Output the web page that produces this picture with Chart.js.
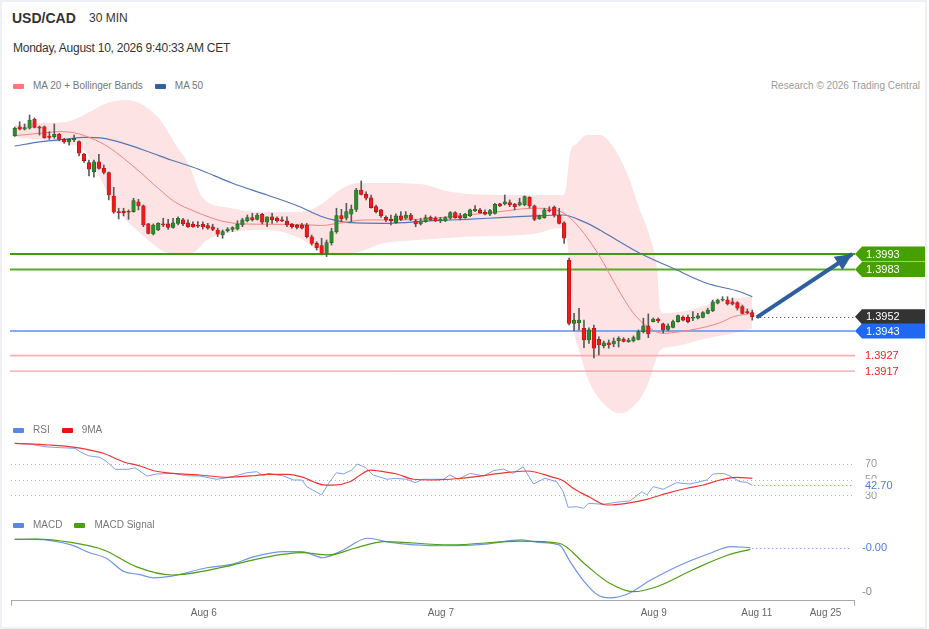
<!DOCTYPE html>
<html>
<head>
  <title>USD/CAD 30 MIN</title>
  <script src="https://cdn.jsdelivr.net/npm/chart.js"></script>
  <style>
    body {
      margin: 0;
      background: #fff;
      font-family: 'Liberation Sans', Arial, sans-serif;
      color: #333;
    }
    #wrap { position: relative; width: 929px; height: 629px; overflow: hidden; }
    #frame {
      position: absolute; left: 0; top: 0;
      width: 927px; height: 629px;
      box-sizing: border-box;
      border: 2px solid #edf0f4;
    }
    .abs { position: absolute; white-space: nowrap; }
    canvas { position: absolute; left: 0; }
    .legend {
      position: absolute; left: 13px; height: 12px; line-height: 12px;
      font-size: 10px; color: #777; display: flex; align-items: center; z-index: 2;
    }
    .legend .item { display: flex; align-items: center; margin-right: 12px; }
    .legend .sw { display: inline-block; width: 11px; height: 5px; border-radius: 1px; margin-right: 9px; }
  </style>
</head>
<body>
<div id="wrap">
  <div id="frame"></div>
  <div class="abs" style="left:12px;top:10px;font-size:14px;line-height:16px;font-weight:bold;">USD/CAD</div>
  <div class="abs" style="left:89px;top:11px;font-size:12px;line-height:14px;">30 MIN</div>
  <div class="abs" style="left:13px;top:41px;font-size:12px;line-height:14px;letter-spacing:-0.25px;">Monday, August 10, 2026 9:40:33 AM CET</div>

  <div class="legend" style="top:80px">
    <span class="item"><span class="sw" style="background:#ff7676"></span>MA 20 + Bollinger Bands</span>
    <span class="item"><span class="sw" style="background:#30609f"></span>MA 50</span>
  </div>
  <div class="abs" style="right:9px;top:80px;font-size:10px;line-height:12px;color:#9a9a9a;">Research © 2026 Trading Central</div>

  <canvas id="mainChart" width="929" height="330" style="top:95px"></canvas>

  <div class="legend" style="top:424px">
    <span class="item"><span class="sw" style="background:#5a86e4"></span>RSI</span>
    <span class="item"><span class="sw" style="background:#ee1111"></span>9MA</span>
  </div>
  <canvas id="rsiChart" width="929" height="80" style="top:436px"></canvas>

  <div class="legend" style="top:519px">
    <span class="item"><span class="sw" style="background:#5a86e4"></span>MACD</span>
    <span class="item"><span class="sw" style="background:#4c9e12"></span>MACD Signal</span>
  </div>
  <canvas id="macdChart" width="929" height="99" style="top:530px"></canvas>
</div>

<script>
  // ---- price candles (30 min), index 0..149 ----
  const candleOpen = [
    1.40698,1.40756,1.40741,1.40746,1.40804,1.40756,1.40756,1.40696,1.40691,1.40707,
    1.40674,1.40657,1.40670,1.40659,1.40579,1.40523,1.40464,1.40529,1.40486,1.40458,
    1.40306,1.40205,1.40209,1.40205,1.40205,1.40269,1.40242,1.40125,1.40060,1.40086,
    1.40125,1.40125,1.40103,1.40129,1.40151,1.40133,1.40123,1.40118,1.40123,1.40114,
    1.40107,1.40086,1.40053,1.40081,1.40090,1.40092,1.40118,1.40146,1.40166,1.40155,
    1.40188,1.40136,1.40172,1.40162,1.40151,1.40144,1.40123,1.40118,1.40118,1.40118,
    1.40042,1.39999,1.39984,1.39935,1.40004,1.40075,1.40179,1.40162,1.40188,1.40220,
    1.40345,1.40317,1.40295,1.40237,1.40216,1.40168,1.40157,1.40133,1.40177,1.40162,
    1.40183,1.40146,1.40125,1.40140,1.40168,1.40162,1.40144,1.40146,1.40162,1.40198,
    1.40177,1.40166,1.40179,1.40211,1.40216,1.40201,1.40188,1.40194,1.40255,1.40255,
    1.40263,1.40253,1.40248,1.40248,1.40298,1.40242,1.40157,1.40166,1.40216,1.40233,
    1.40183,1.40133,1.39891,1.39480,1.39484,1.39448,1.39372,1.39448,1.39376,1.39335,
    1.39354,1.39346,1.39365,1.39378,1.39361,1.39365,1.39376,1.39426,1.39463,1.39491,
    1.39508,1.39476,1.39441,1.39454,1.39491,1.39519,1.39519,1.39513,1.39513,1.39519,
    1.39545,1.39562,1.39610,1.39631,1.39631,1.39620,1.39614,1.39588,1.39556,1.39549
  ];
  const candleHigh = [
    1.40754,1.40789,1.40774,1.40832,1.40813,1.40761,1.40761,1.40724,1.40774,1.40713,
    1.40681,1.40681,1.40702,1.40665,1.40584,1.40540,1.40540,1.40577,1.40508,1.40462,
    1.40363,1.40227,1.40227,1.40216,1.40292,1.40285,1.40248,1.40129,1.40125,1.40133,
    1.40162,1.40155,1.40162,1.40172,1.40162,1.40151,1.40138,1.40140,1.40138,1.40129,
    1.40123,1.40097,1.40086,1.40101,1.40107,1.40146,1.40162,1.40183,1.40194,1.40194,
    1.40194,1.40172,1.40194,1.40172,1.40172,1.40172,1.40129,1.40123,1.40129,1.40129,
    1.40053,1.40010,1.40032,1.40021,1.40097,1.40227,1.40220,1.40259,1.40248,1.40356,
    1.40404,1.40334,1.40313,1.40248,1.40220,1.40177,1.40183,1.40190,1.40205,1.40205,
    1.40194,1.40155,1.40162,1.40183,1.40177,1.40172,1.40168,1.40172,1.40205,1.40205,
    1.40194,1.40194,1.40222,1.40244,1.40227,1.40216,1.40220,1.40259,1.40259,1.40313,
    1.40281,1.40259,1.40292,1.40307,1.40302,1.40248,1.40183,1.40227,1.40237,1.40242,
    1.40227,1.40140,1.39904,1.39545,1.39578,1.39501,1.39450,1.39469,1.39393,1.39365,
    1.39372,1.39385,1.39393,1.39387,1.39383,1.39398,1.39437,1.39513,1.39541,1.39515,
    1.39515,1.39482,1.39476,1.39501,1.39534,1.39528,1.39534,1.39556,1.39545,1.39556,
    1.39578,1.39631,1.39638,1.39653,1.39653,1.39644,1.39620,1.39599,1.39573,1.39566
  ];
  const candleLow = [
    1.40693,1.40735,1.40735,1.40741,1.40748,1.40702,1.40681,1.40674,1.40681,1.40665,
    1.40648,1.40637,1.40659,1.40566,1.40525,1.40436,1.40428,1.40480,1.40449,1.40281,
    1.40194,1.40157,1.40177,1.40155,1.40201,1.40216,1.40107,1.40060,1.40053,1.40081,
    1.40107,1.40090,1.40097,1.40118,1.40114,1.40103,1.40103,1.40101,1.40092,1.40090,
    1.40081,1.40042,1.40032,1.40073,1.40075,1.40086,1.40107,1.40138,1.40144,1.40151,
    1.40125,1.40107,1.40129,1.40136,1.40140,1.40107,1.40097,1.40092,1.40092,1.40034,
    1.39988,1.39956,1.39924,1.39913,1.39988,1.40064,1.40140,1.40151,1.40140,1.40205,
    1.40313,1.40281,1.40227,1.40196,1.40168,1.40140,1.40118,1.40129,1.40146,1.40155,
    1.40146,1.40107,1.40118,1.40136,1.40146,1.40140,1.40133,1.40140,1.40155,1.40162,
    1.40151,1.40162,1.40172,1.40205,1.40194,1.40183,1.40179,1.40188,1.40237,1.40248,
    1.40237,1.40216,1.40242,1.40243,1.40229,1.40146,1.40155,1.40162,1.40203,1.40170,
    1.40125,1.39999,1.39469,1.39432,1.39437,1.39322,1.39350,1.39255,1.39275,1.39320,
    1.39318,1.39328,1.39326,1.39359,1.39357,1.39359,1.39372,1.39417,1.39387,1.39489,
    1.39484,1.39417,1.39430,1.39450,1.39487,1.39495,1.39482,1.39497,1.39508,1.39515,
    1.39541,1.39556,1.39606,1.39625,1.39599,1.39599,1.39566,1.39541,1.39541,1.39501
  ];
  const candleClose = [
    1.40746,1.40741,1.40750,1.40800,1.40752,1.40746,1.40685,1.40687,1.40707,1.40674,
    1.40657,1.40674,1.40681,1.40584,1.40536,1.40480,1.40529,1.40486,1.40460,1.40313,
    1.40201,1.40198,1.40198,1.40201,1.40276,1.40242,1.40118,1.40064,1.40118,1.40129,
    1.40118,1.40103,1.40133,1.40162,1.40125,1.40107,1.40107,1.40110,1.40107,1.40097,
    1.40090,1.40058,1.40075,1.40092,1.40101,1.40123,1.40151,1.40166,1.40151,1.40183,
    1.40136,1.40172,1.40151,1.40146,1.40144,1.40118,1.40107,1.40103,1.40097,1.40042,
    1.39999,1.39971,1.39935,1.40004,1.40075,1.40179,1.40157,1.40205,1.40222,1.40345,
    1.40317,1.40292,1.40231,1.40205,1.40177,1.40151,1.40146,1.40177,1.40155,1.40183,
    1.40155,1.40125,1.40146,1.40166,1.40151,1.40146,1.40157,1.40166,1.40198,1.40166,
    1.40162,1.40188,1.40216,1.40220,1.40198,1.40188,1.40211,1.40253,1.40242,1.40269,
    1.40248,1.40237,1.40263,1.40302,1.40242,1.40155,1.40177,1.40216,1.40209,1.40183,
    1.40129,1.40032,1.39480,1.39501,1.39501,1.39372,1.39437,1.39318,1.39339,1.39354,
    1.39339,1.39365,1.39383,1.39363,1.39372,1.39387,1.39426,1.39463,1.39411,1.39508,
    1.39495,1.39437,1.39463,1.39491,1.39530,1.39501,1.39491,1.39517,1.39528,1.39549,
    1.39566,1.39620,1.39631,1.39636,1.39606,1.39604,1.39578,1.39545,1.39549,1.39523
  ];

  // ---- moving averages and Bollinger bands (candle index, price) ----
  const ma20Idx = [0, 5, 9, 12, 15.5, 19, 22, 25.6, 29, 32.3, 36.4, 41, 44, 50.5, 57.5, 62, 64.5, 71, 78, 84.5,
    91.3, 98, 104.7, 108.7, 111.5, 115, 118.2, 121.6, 125, 128.3, 131, 134.4, 138.4, 142.5, 145.2, 149];
  const ma20Val = [1.40698, 1.40713, 1.40724, 1.40717, 1.40681, 1.40623, 1.40551, 1.40454, 1.40356, 1.40269,
    1.40206, 1.40151, 1.40131, 1.40123, 1.40122, 1.40115, 1.40125, 1.40151, 1.40151, 1.40162,
    1.40183, 1.40205, 1.40227, 1.40220, 1.40183, 1.40064, 1.39913, 1.39718, 1.39545, 1.39448,
    1.39415, 1.39426, 1.39448, 1.39484, 1.39523, 1.39545];

  const ma50Idx = [0, 5.4, 10, 14, 18, 22, 27, 31.6, 37, 44, 51, 57.6, 61.7, 64.4, 67.7, 74.5, 84.6, 91.3, 98, 104.8,
    110.8, 114.9, 118.2, 121.6, 126.3, 133, 139.8, 146.5, 149];
  const ma50Val = [1.40631, 1.40659, 1.40674, 1.40687, 1.40681, 1.40648, 1.40594, 1.40540, 1.40482, 1.40389,
    1.40313, 1.40237, 1.40177, 1.40151, 1.40133, 1.40129, 1.40146, 1.40155, 1.40166, 1.40177,
    1.40183, 1.40140, 1.40086, 1.40021, 1.39935, 1.39837, 1.39740, 1.39685, 1.39653];

  const bandUpIdx = [0, 5.1, 10.6, 14.6, 18.2, 22.3, 25.3, 29.4, 32.8, 35.4, 37.4, 38.8, 43.5, 49.6, 55.6, 59.7, 62.3, 64.3, 66.3, 69.3, 73.8,
    81.9, 87.9, 98, 104.7, 110.8, 111.4, 112.2, 113.6, 115.6, 118.2, 120.9, 123.7, 126.3, 128.3, 129.8, 130.4, 131, 136.4, 143.1, 149];
  const bandUpVal = [1.40767, 1.40780, 1.40789, 1.40843, 1.40904, 1.40930, 1.40908, 1.40800, 1.40626, 1.40497,
    1.40324, 1.40269, 1.40229, 1.40203, 1.40203, 1.40216, 1.40261, 1.40313, 1.40358, 1.40390, 1.40390,
    1.40384, 1.40334, 1.40313, 1.40313, 1.40313, 1.40367, 1.40586, 1.40648, 1.40702, 1.40702,
    1.40626, 1.40454, 1.40216, 1.40042, 1.39826, 1.39566, 1.39545, 1.39566, 1.39631, 1.39653];

  const bandLoIdx = [0, 10.6, 14, 17, 19.5, 22.5, 25.3, 29, 31, 35.8, 38.8, 44.1, 51, 57.6, 61.7, 63.7, 67.7, 70.8, 73.8, 81.3,
    91.4, 104.7, 110.2, 111.2, 112.2, 112.8, 114.2, 116.2, 119.6, 122.3, 124.9, 127.7, 129.3, 130.4, 133, 139.9, 145.2, 149];
  const bandLoVal = [1.40689, 1.40644, 1.40605, 1.40443, 1.40281, 1.40151, 1.40066, 1.39969, 1.39937, 1.39937,
    1.40021, 1.40073, 1.40086, 1.40032, 1.39943, 1.39924, 1.39930, 1.39956, 1.39995, 1.40021,
    1.40042, 1.40060, 1.40099, 1.40073, 1.39826, 1.39501, 1.39288, 1.39091, 1.38939, 1.38896,
    1.38939, 1.39069, 1.39221, 1.39307, 1.39329, 1.39383, 1.39415, 1.39448];

  // ---- key levels and forecast arrow ----
  const resistLevels = [1.3993, 1.3983];
  const pivotLevel = 1.3943;
  const supportLevels = [1.3927, 1.3917];
  const arrowIdx = [149.9, 169.2];
  const arrowVal = [1.39519, 1.3993];

  // ---- RSI panel ----
  const rsiIdx = [0, 3.1, 6.1, 9.2, 12.2, 13.2, 14.9, 17.2, 18.6, 20.3, 22.9, 24.3, 26.7, 28.7, 32, 34.7, 37.4, 40.8, 43.5, 46.9,
    48.9, 50.2, 51.2, 54.3, 56.3, 58, 59, 62, 63.4, 65, 66.4, 68.1, 69.2, 70.8, 72.4, 75.2, 76.8, 79.2, 80.9, 82.5,
    86.6, 87.9, 89.6, 92, 94.7, 96.7, 98.7, 100.7, 102.7, 104.8, 107.1, 109.5, 110.8, 111.8, 113.5, 114.9, 115.9, 118.9, 122.3, 124.3,
    126.7, 127.7, 129, 131, 133.7, 136.4, 139.8, 141.1, 143.2, 144.5, 146.5, 147.9, 149];
  const rsiVal = [95.8, 94.9, 91.5, 90.3, 89.5, 85.2, 80.1, 78.1, 72.5, 62.9, 62.9, 64.9, 54.4, 57.0, 57.8, 54.8, 54.4, 50.3, 52.8, 58.6,
    59.9, 54.8, 57.8, 54.4, 49.4, 49.4, 40.9, 30.4, 45.2, 58.6, 57.0, 62.0, 69.6, 65.4, 55.7, 50.3, 51.5, 50.3, 46.0, 50.3,
    50.3, 55.7, 50.3, 57.8, 54.4, 61.1, 63.3, 57.8, 66.2, 44.3, 51.5, 47.2, 34.6, 14.8, 15.6, 13.5, 19.9, 18.6, 21.9, 22.8,
    34.6, 30.4, 40.9, 37.6, 46.0, 44.3, 49.4, 57.0, 57.8, 54.4, 47.2, 46.4, 42.7];
  const rsiMaIdx = [0, 7.1, 12.2, 15.2, 17.9, 21.9, 25.3, 28.3, 32, 37.4, 42.8, 48.2, 50.9, 55, 58.3, 60.3, 62.7, 64.4, 67.7, 69.8,
    71.8, 74.5, 77.2, 80.5, 84.6, 90, 94, 98, 103.4, 108.8, 110.8, 112.8, 116.2, 119.6, 123.6, 127.7, 131.7, 135.8, 139.1, 142.5, 145.8, 149];
  const rsiMaVal = [95.8, 93.7, 90.8, 87.3, 83.2, 72.5, 67.1, 60.8, 57.8, 55.7, 52.8, 54.8, 56.6, 56.6, 52.8, 47.2, 43.0, 43.0, 47.2, 55.7,
    62.0, 59.9, 57.0, 50.3, 49.4, 51.5, 54.4, 57.8, 60.8, 52.8, 48.5, 38.9, 27.5, 17.7, 19.9, 24.9, 32.5, 38.9, 43.0, 49.4, 52.8, 51.5];
  const rsiLevels = [70, 50, 30];

  // ---- MACD panel (values in pips) ----
  const macdIdx = [0, 4.2, 11.4, 15, 18.5, 22.1, 25.1, 28.1, 31.7, 38.8, 43.7, 48.4, 54.4, 58, 62.2, 66.4, 71.2, 75.9, 80.7, 87.9,
    95.1, 102.2, 105.8, 110, 112.2, 114.8, 117.8, 120.2, 123.7, 128.5, 134.5, 140.5, 144.7, 148.6];
  const macdVal = [2.8, 2.8, 0.8, -1.9, -4.0, -8.8, -9.8, -11.0, -10.4, -7.4, -6.2, -3.4, -1.6, -1.6, -3.8, -1.0, 3.2, 1.7, 0.8, 0.5,
    1.1, 2.6, 1.7, 0.8, -5.2, -11.8, -17.2, -18.2, -16.9, -11.8, -6.4, -2.2, 0.2, -0.2];
  const signalIdx = [0, 4.2, 11.4, 18, 24.5, 31.7, 42.5, 49.6, 58, 63.4, 68.7, 74.7, 87.9, 102.2, 110, 115.4, 120.2, 124.9, 129.7, 136.9, 144.1, 148.6];
  const signalVal = [2.8, 2.9, 1.7, -1.0, -7.0, -10.0, -7.0, -4.0, -2.0, -2.8, -0.4, 2.0, 0.8, 2.2, 1.4, -6.4, -13.0, -16.0, -14.2, -8.2, -2.8, -0.8];
  const macdTickVals = [-0.2, -16];
  const macdTickText = ['-0.00', '-0'];

  // ---- time axis ----
  const tickIdx = [38.2, 86.1, 129.1, 149.9, 163.8];
  const tickText = ['Aug 6', 'Aug 7', 'Aug 9', 'Aug 11', 'Aug 25'];

  // shared horizontal range (slots past the last candle are future time)
  const X_MIN = -0.75, X_MAX = 169.55;
  const LABEL_X = 865;

  Chart.defaults.font.family = "'Liberation Sans', Arial, sans-serif";

  function pts(xs, ys) {
    return xs.map((x, i) => ({ x: x, y: ys[i] }));
  }

  function baseOptions(yMin, yMax) {
    return {
      responsive: false,
      animation: false,
      events: [],
      layout: { padding: { left: 11, right: 75, top: 0, bottom: 0 } },
      plugins: { legend: { display: false }, tooltip: { enabled: false } },
      scales: {
        x: { type: 'linear', min: X_MIN, max: X_MAX, offset: false, display: false },
        y: { type: 'linear', min: yMin, max: yMax, display: false }
      }
    };
  }

  function hLine(ctx, x1, x2, y, color, width, dash) {
    ctx.save();
    ctx.beginPath();
    ctx.strokeStyle = color;
    ctx.lineWidth = width;
    ctx.setLineDash(dash || []);
    ctx.moveTo(x1, y);
    ctx.lineTo(x2, y);
    ctx.stroke();
    ctx.restore();
  }

  function tagBox(ctx, y, color, text) {
    ctx.save();
    ctx.fillStyle = color;
    ctx.beginPath();
    ctx.moveTo(855, y);
    ctx.lineTo(862, y - 7.5);
    ctx.lineTo(925, y - 7.5);
    ctx.lineTo(925, y + 7.5);
    ctx.lineTo(862, y + 7.5);
    ctx.closePath();
    ctx.fill();
    ctx.fillStyle = '#fff';
    ctx.font = "11px 'Liberation Sans', Arial";
    ctx.textBaseline = 'middle';
    ctx.fillText(text, 866, y + 0.5);
    ctx.restore();
  }

  function sideText(ctx, x, y, color, text) {
    ctx.save();
    ctx.fillStyle = color;
    ctx.font = "11px 'Liberation Sans', Arial";
    ctx.textBaseline = 'middle';
    ctx.fillText(text, x, y + 0.5);
    ctx.restore();
  }

  // ---------- main price chart ----------
  const upColor = '#2f8a2f', downColor = '#f01818';
  const wickData = candleOpen.map((o, i) => ({ x: i, y: [candleLow[i], candleHigh[i]] }));
  const bodyData = candleOpen.map((o, i) => ({ x: i, y: [o, candleClose[i]] }));
  const bodyFill = candleOpen.map((o, i) => candleClose[i] >= o ? upColor : downColor);
  const bodyEdge = candleOpen.map((o, i) => candleClose[i] >= o ? '#1f5f1f' : '#a81010');

  const levelsPlugin = {
    id: 'levels',
    afterDatasetDraw(chart, args) {
      if (args.index !== 1) return; // right after the Bollinger band
      const { ctx, chartArea, scales: { y } } = chart;
      const x1 = chartArea.left - 1, x2 = 855;
      hLine(ctx, x1, x2, y.getPixelForValue(resistLevels[0]), '#3e9a06', 2);
      hLine(ctx, x1, x2, y.getPixelForValue(resistLevels[1]), '#5aaa26', 2);
      hLine(ctx, x1, x2, y.getPixelForValue(pivotLevel), '#5b8ff0', 1.3);
      hLine(ctx, x1, x2, y.getPixelForValue(supportLevels[0]), '#f8b0b0', 1.6);
      hLine(ctx, x1, x2, y.getPixelForValue(supportLevels[1]), '#f38a8a', 1);
    },
    afterDraw(chart) {
      const { ctx, scales: { x, y } } = chart;
      const last = candleClose[candleClose.length - 1];
      const lastX = x.getPixelForValue(candleClose.length - 1) + 4;
      hLine(ctx, lastX, 855, Math.round(y.getPixelForValue(last)) + 0.5, '#333', 1, [1, 3]);

      tagBox(ctx, y.getPixelForValue(resistLevels[0]), '#46a000', resistLevels[0].toFixed(4));
      tagBox(ctx, y.getPixelForValue(resistLevels[1]), '#46a000', resistLevels[1].toFixed(4));
      tagBox(ctx, y.getPixelForValue(last), '#333333', last.toFixed(4));
      tagBox(ctx, y.getPixelForValue(pivotLevel), '#1f68f2', pivotLevel.toFixed(4));
      supportLevels.forEach(v => sideText(ctx, LABEL_X, y.getPixelForValue(v), '#f01e1e', v.toFixed(4)));

      // arrow head on the forecast line
      const ax1 = x.getPixelForValue(arrowIdx[0]), ay1 = y.getPixelForValue(arrowVal[0]);
      const ax2 = x.getPixelForValue(arrowIdx[1]), ay2 = y.getPixelForValue(arrowVal[1]);
      const a = Math.atan2(ay2 - ay1, ax2 - ax1);
      const L = 17, W = 8;
      ctx.save();
      ctx.fillStyle = '#2d5f9f';
      ctx.beginPath();
      ctx.moveTo(ax2, ay2);
      ctx.lineTo(ax2 - L * Math.cos(a) + W * Math.sin(a), ay2 - L * Math.sin(a) - W * Math.cos(a));
      ctx.lineTo(ax2 - L * Math.cos(a) - W * Math.sin(a), ay2 - L * Math.sin(a) + W * Math.cos(a));
      ctx.closePath();
      ctx.fill();
      ctx.restore();
    }
  };

  new Chart(document.getElementById('mainChart').getContext('2d'), {
    type: 'bar',
    data: {
      datasets: [
        { type: 'line', data: pts(bandUpIdx, bandUpVal), borderWidth: 0, borderColor: 'rgba(0,0,0,0)',
          backgroundColor: '#fde3e3', fill: '+1', pointRadius: 0, cubicInterpolationMode: 'monotone', order: 10 },
        { type: 'line', data: pts(bandLoIdx, bandLoVal), borderWidth: 0, borderColor: 'rgba(0,0,0,0)',
          fill: false, pointRadius: 0, cubicInterpolationMode: 'monotone', order: 9 },
        { type: 'line', data: pts(ma50Idx, ma50Val), borderColor: '#5576b6', borderWidth: 1.2,
          pointRadius: 0, cubicInterpolationMode: 'monotone', order: 8 },
        { type: 'line', data: pts(ma20Idx, ma20Val), borderColor: '#f28484', borderWidth: 1,
          pointRadius: 0, cubicInterpolationMode: 'monotone', order: 7 },
        { type: 'bar', data: wickData, backgroundColor: '#5a5a5a', barThickness: 1, grouped: false, order: 4 },
        { type: 'bar', data: bodyData, backgroundColor: bodyFill, borderColor: bodyEdge, borderWidth: 0.6,
          borderSkipped: false, barThickness: 3.6, minBarLength: 1, grouped: false, order: 3 },
        { type: 'line', data: pts(arrowIdx, arrowVal), borderColor: '#2d5f9f', borderWidth: 4,
          pointRadius: 0, borderCapStyle: 'butt', order: 1 }
      ]
    },
    options: baseOptions(1.38820, 1.40962),
    plugins: [levelsPlugin]
  });

  // ---------- RSI ----------
  const rsiPlugin = {
    id: 'rsiLevels',
    beforeDatasetsDraw(chart) {
      const { ctx, chartArea, scales: { y } } = chart;
      rsiLevels.forEach(v => hLine(ctx, chartArea.left, 852, Math.round(y.getPixelForValue(v)) + 0.5, '#b5b5b5', 1, [1, 3]));
    },
    afterDraw(chart) {
      const { ctx, scales: { x, y } } = chart;
      rsiLevels.forEach(v => sideText(ctx, LABEL_X, y.getPixelForValue(v), '#999', String(v)));
      const lastV = rsiVal[rsiVal.length - 1];
      const py = y.getPixelForValue(lastV);
      hLine(ctx, x.getPixelForValue(rsiIdx[rsiIdx.length - 1]) + 2, 852, Math.round(py) + 0.5, '#5a86e4', 1, [1, 3]);
      ctx.save();
      ctx.fillStyle = '#fff';
      ctx.fillRect(LABEL_X - 1, py - 6.5, 34, 13);
      ctx.restore();
      sideText(ctx, LABEL_X, py, '#4a7de6', lastV.toFixed(2));
    }
  };

  new Chart(document.getElementById('rsiChart').getContext('2d'), {
    type: 'line',
    data: {
      datasets: [
        { data: pts(rsiMaIdx, rsiMaVal), borderColor: '#f03434', borderWidth: 1.2, pointRadius: 0,
          cubicInterpolationMode: 'monotone', order: 1 },
        { data: pts(rsiIdx, rsiVal), borderColor: '#7f9fec', borderWidth: 1, pointRadius: 0, tension: 0, order: 2 }
      ]
    },
    options: baseOptions(3.8, 105.1),
    plugins: [rsiPlugin]
  });

  // ---------- MACD + time axis ----------
  const macdPlugin = {
    id: 'macdLabels',
    afterDraw(chart) {
      const { ctx, chartArea, scales: { x, y } } = chart;
      const lastV = macdVal[macdVal.length - 1];
      const py = y.getPixelForValue(lastV);
      hLine(ctx, x.getPixelForValue(macdIdx[macdIdx.length - 1]) + 2, 852, Math.round(py) + 0.5, '#5a86e4', 1, [1, 3]);
      sideText(ctx, 862, y.getPixelForValue(macdTickVals[0]), '#4a7de6', macdTickText[0]);
      sideText(ctx, 862, y.getPixelForValue(macdTickVals[1]), '#888', macdTickText[1]);
      // end ticks of the time axis
      ctx.save();
      ctx.strokeStyle = '#a8a8a8';
      ctx.lineWidth = 1;
      ctx.beginPath();
      [chartArea.left, chartArea.right].forEach(px => {
        ctx.moveTo(Math.round(px) + 0.5, chartArea.bottom);
        ctx.lineTo(Math.round(px) + 0.5, chartArea.bottom + 5);
      });
      ctx.stroke();
      ctx.restore();
    }
  };

  const macdOpts = baseOptions(-19.23, 6.16);
  macdOpts.scales.x = {
    type: 'linear', min: X_MIN, max: X_MAX, offset: false, display: true,
    grid: { display: false, drawTicks: false },
    border: { display: true, color: '#a8a8a8', width: 1 },
    afterBuildTicks: axis => { axis.ticks = tickIdx.map(v => ({ value: v })); },
    afterFit: axis => { axis.height = 28.3; },
    ticks: {
      autoSkip: false, maxRotation: 0, padding: 7, color: '#666',
      font: { size: 10 },
      callback: (value, index) => tickText[index]
    }
  };

  new Chart(document.getElementById('macdChart').getContext('2d'), {
    type: 'line',
    data: {
      datasets: [
        { data: pts(signalIdx, signalVal), borderColor: '#4f9e16', borderWidth: 1.2, pointRadius: 0,
          cubicInterpolationMode: 'monotone', order: 1 },
        { data: pts(macdIdx, macdVal), borderColor: '#7094e8', borderWidth: 1.2, pointRadius: 0,
          cubicInterpolationMode: 'monotone', order: 2 }
      ]
    },
    options: macdOpts,
    plugins: [macdPlugin]
  });
</script>
</body>
</html>
